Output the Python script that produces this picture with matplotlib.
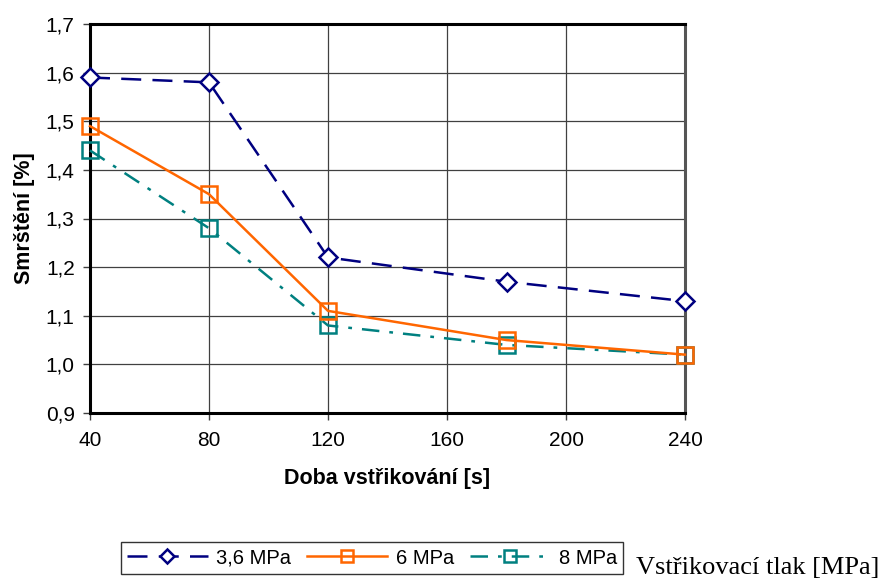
import matplotlib
matplotlib.use("Agg")
import matplotlib.pyplot as plt
from matplotlib.ticker import FixedLocator, FuncFormatter

times = [40, 80, 120, 180, 240]
s36 = [1.59, 1.58, 1.22, 1.17, 1.13]
s6 = [1.49, 1.35, 1.11, 1.05, 1.02]
s8 = [1.44, 1.28, 1.08, 1.04, 1.02]
labels = ["3,6 MPa", "6 MPa", "8 MPa"]
xticks = [40, 80, 120, 160, 200, 240]
yticks = [0.9, 1.0, 1.1, 1.2, 1.3, 1.4, 1.5, 1.6, 1.7]

plt.rcParams['font.family'] = ['Liberation Sans', 'DejaVu Sans']

fig = plt.figure(figsize=(8.82, 5.85), dpi=100)
ax = fig.add_axes([90/882, 1-413/585, (685-90)/882, (413-24)/585])

l1, = ax.plot(times, s36, color='#000080', lw=1.8, dashes=(8, 4.5), marker='D',
              ms=9.5, mfc='white', mec='#000080', mew=1.8, clip_on=False, zorder=5)
l2, = ax.plot(times, s6, color='#FF6600', lw=1.8, ls='-', marker='s',
              ms=12, mfc='none', mec='#FF6600', mew=1.8, clip_on=False, zorder=4)
l3, = ax.plot(times, s8, color='#008080', lw=1.8, dashes=(7, 4, 1.5, 4), marker='s',
              ms=12, mfc='none', mec='#008080', mew=1.8, clip_on=False, zorder=3)

ax.set_xlim(40, 240)
ax.set_ylim(0.9, 1.7)
ax.xaxis.set_major_locator(FixedLocator(xticks))
ax.yaxis.set_major_locator(FixedLocator(yticks))
ax.yaxis.set_major_formatter(FuncFormatter(lambda v, p: f"{v:.1f}".replace('.', ',')))
ax.grid(True, color='#404040', lw=0.9)
ax.set_axisbelow(True)
for side in ['left', 'bottom', 'top']:
    ax.spines[side].set_linewidth(2.2)
    ax.spines[side].set_color('black')
ax.spines['right'].set_linewidth(2.2)
ax.spines['right'].set_color('#555555')
ax.tick_params(axis='both', labelsize=15, length=5, width=1, direction='out', color='#404040')
ax.tick_params(axis='x', pad=8)
ax.tick_params(axis='y', pad=6)

ax.set_xlabel("Doba vstřikování [s]", fontsize=15.5, fontweight='bold', labelpad=13)
ax.set_ylabel("Smrštění [%]", fontsize=15.5, fontweight='bold', labelpad=8)

leg = fig.legend([l1, l2, l3], labels, loc='center', bbox_to_anchor=(372/882, 1-558/585),
                 ncol=3, frameon=True, fancybox=False, edgecolor='black', fontsize=14.5,
                 handlelength=4.0, columnspacing=0.8, handletextpad=0.4, borderpad=0.3,
                 borderaxespad=0)
leg.get_frame().set_linewidth(1.0)
for h in leg.legend_handles:
    h.set_markersize(7 if h.get_marker() == 'D' else 8)

fig.text(636/882, 1-568/585, "Vstřikovací tlak [MPa]", family=['Liberation Serif'],
         fontsize=19, va='center', ha='left')

fig.savefig("out.png", dpi=100)
